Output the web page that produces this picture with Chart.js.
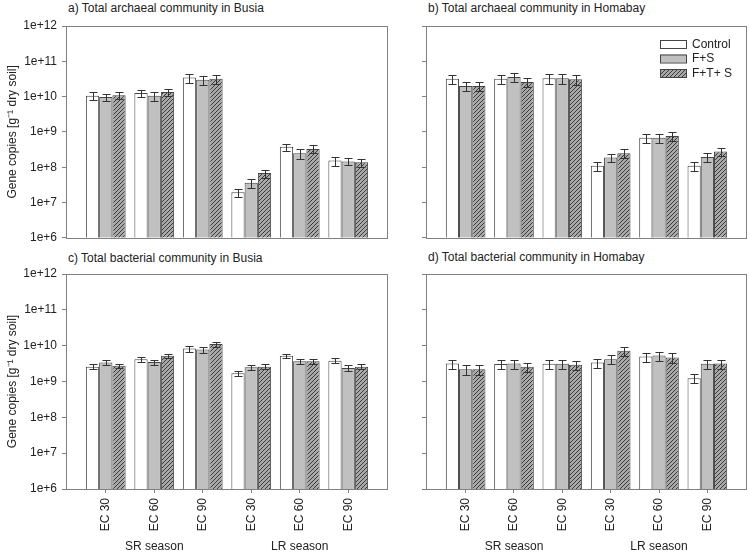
<!DOCTYPE html>
<html lang="en">
<head>
  <meta charset="UTF-8">
  <title>Archaeal and bacterial gene copies</title>
  <script src="https://cdn.jsdelivr.net/npm/chart.js@4"></script>
  <style>
    body { margin: 0; background: #fff; font-family: 'Liberation Sans', Arial, sans-serif; }
    #wrap { position: relative; width: 750px; height: 553px; }
    canvas { position: absolute; }
    .ptitle { position: absolute; font-size: 12px; line-height: 14px; color: #222; white-space: nowrap; }
  </style>
</head>
<body>
<div id="wrap">
  <div class="ptitle" style="left:68px;top:1px">a) Total archaeal community in Busia</div>
  <div class="ptitle" style="left:428px;top:1px">b) Total archaeal community in Homabay</div>
  <div class="ptitle" style="left:68px;top:251px">c) Total bacterial community in Busia</div>
  <div class="ptitle" style="left:428px;top:250px">d) Total bacterial community in Homabay</div>
  <canvas id="chartA" width="395" height="250" style="left:0;top:0"></canvas>
  <canvas id="chartB" width="355" height="250" style="left:395px;top:0"></canvas>
  <canvas id="chartC" width="395" height="303" style="left:0;top:250px"></canvas>
  <canvas id="chartD" width="355" height="303" style="left:395px;top:250px"></canvas>
</div>

<script>
  const categories = ['EC 30', 'EC 60', 'EC 90', 'EC 30', 'EC 60', 'EC 90'];
  const seasons = ['SR season', 'LR season'];
  const seasonAt = [1, 4];
  const seriesNames = ['Control', 'F+S', 'F+T+ S'];
  const yTicks = [1e6, 1e7, 1e8, 1e9, 1e10, 1e11, 1e12];
  const yTitle = 'Gene copies [g\u207B\u00B9 dry soil]';

  // a) archaea, Busia
  const archBusiaControl = [1.05e10, 1.26e10, 3.5e10, 1.95e7, 3.8e8, 1.55e8];
  const archBusiaControlErr = [2.6e9, 3.1e9, 1.0e10, 4.9e6, 8.7e7, 4.5e7];
  const archBusiaFS = [9.8e9, 1.05e10, 3.0e10, 3.6e7, 2.5e8, 1.45e8];
  const archBusiaFSErr = [2.4e9, 2.8e9, 9e9, 1.0e7, 7.5e7, 3.2e7];
  const archBusiaFTS = [1.1e10, 1.35e10, 3.2e10, 6.8e7, 3.3e8, 1.38e8];
  const archBusiaFTSErr = [2.7e9, 3.4e9, 9e9, 1.7e7, 8.2e7, 3.5e7];

  // b) archaea, Homabay
  const archHomaControl = [3.2e10, 3.2e10, 3.3e10, 1.1e8, 6.8e8, 1.1e8];
  const archHomaControlErr = [9.6e9, 9e9, 1.0e10, 3.1e7, 1.9e8, 3.1e7];
  const archHomaFS = [2.0e10, 3.6e10, 3.3e10, 1.87e8, 6.8e8, 1.95e8];
  const archHomaFSErr = [6e9, 9.7e9, 1.0e10, 5e7, 1.9e8, 5.3e7];
  const archHomaFTS = [2.0e10, 2.6e10, 3.1e10, 2.5e8, 7.6e8, 2.8e8];
  const archHomaFTSErr = [5.6e9, 7.3e9, 9.3e9, 7e7, 2.1e8, 7.8e7];

  // c) bacteria, Busia
  const bactBusiaControl = [2.6e9, 4.2e9, 8.3e9, 1.7e9, 5.2e9, 3.8e9];
  const bactBusiaControlErr = [3.9e8, 6.3e8, 1.5e9, 2.7e8, 8e8, 6e8];
  const bactBusiaFS = [3.4e9, 3.5e9, 7.8e9, 2.5e9, 3.7e9, 2.4e9];
  const bactBusiaFSErr = [5e8, 5.5e8, 1.4e9, 4e8, 6e8, 4e8];
  const bactBusiaFTS = [2.75e9, 5.2e9, 1.12e10, 2.6e9, 3.7e9, 2.6e9];
  const bactBusiaFTSErr = [4e8, 8e8, 1.8e9, 4e8, 5.5e8, 4e8];

  // d) bacteria, Homabay
  const bactHomaControl = [3.2e9, 3.1e9, 3.15e9, 3.4e9, 5.0e9, 1.23e9];
  const bactHomaControlErr = [9e8, 9e8, 9.5e8, 9.5e8, 1.4e9, 3.5e8];
  const bactHomaFS = [2.2e9, 3.2e9, 3.15e9, 4.2e9, 5.3e9, 3.15e9];
  const bactHomaFSErr = [6.5e8, 9e8, 9.5e8, 1.2e9, 1.5e9, 9e8];
  const bactHomaFTS = [2.2e9, 2.6e9, 2.95e9, 7.2e9, 4.7e9, 3.2e9];
  const bactHomaFTSErr = [6.5e8, 7.5e8, 8.5e8, 2.1e9, 1.35e9, 9e8];

  Chart.defaults.font.family = "'Liberation Sans', Arial, sans-serif";
  Chart.defaults.font.size = 12;
  Chart.defaults.color = '#222';
  Chart.defaults.animation = false;

  // hatched fill for F+T+ S
  function hatch() {
    const c = document.createElement('canvas');
    c.width = 4; c.height = 4;
    const g = c.getContext('2d');
    g.fillStyle = '#a9a9a9';
    g.fillRect(0, 0, 4, 4);
    g.strokeStyle = '#3a3a3a';
    g.lineWidth = 1;
    g.beginPath();
    g.moveTo(0, 4); g.lineTo(4, 0);
    g.moveTo(-1, 1); g.lineTo(1, -1);
    g.moveTo(3, 5); g.lineTo(5, 3);
    g.stroke();
    return g.createPattern(c, 'repeat');
  }
  const fills = ['#ffffff', '#c0c0c0', hatch()];

  const errorBars = {
    id: 'errorBars',
    afterDatasetsDraw(chart) {
      const ctx = chart.ctx, y = chart.scales.y;
      ctx.save();
      ctx.strokeStyle = '#333';
      ctx.lineWidth = 1;
      chart.data.datasets.forEach((ds, di) => {
        chart.getDatasetMeta(di).data.forEach((bar, i) => {
          const v = ds.data[i].y, e = ds.errors[i];
          const x = Math.round(bar.x) + 0.5;
          const t = Math.round(y.getPixelForValue(v + e)) + 0.5;
          const b = Math.round(y.getPixelForValue(v - e)) + 0.5;
          ctx.beginPath();
          ctx.moveTo(x, t); ctx.lineTo(x, b);
          ctx.moveTo(x - 4, t); ctx.lineTo(x + 4, t);
          ctx.moveTo(x - 4, b); ctx.lineTo(x + 4, b);
          ctx.stroke();
        });
      });
      ctx.restore();
    }
  };

  const frame = {
    id: 'frame',
    afterDraw(chart) {
      const a = chart.chartArea, ctx = chart.ctx;
      ctx.save();
      ctx.strokeStyle = '#808080';
      ctx.lineWidth = 1;
      ctx.strokeRect(Math.round(a.left) + 0.5, Math.round(a.top) + 0.5,
        Math.round(a.right - a.left) - 1, Math.round(a.bottom - a.top));
      ctx.restore();
    }
  };

  const boxLegend = {
    id: 'boxLegend',
    afterDraw(chart, args, opts) {
      if (!opts.show) return;
      const a = chart.chartArea, ctx = chart.ctx;
      ctx.save();
      ctx.font = "12px 'Liberation Sans', Arial, sans-serif";
      ctx.textBaseline = 'middle';
      chart.data.datasets.forEach((ds, i) => {
        const bx = a.right - 87, by = a.top + 14 + i * 14.5;
        ctx.fillStyle = ds.backgroundColor;
        ctx.fillRect(bx, by, 26, 8);
        ctx.strokeStyle = '#444';
        ctx.strokeRect(bx + 0.5, by + 0.5, 26, 8);
        ctx.fillStyle = '#222';
        ctx.fillText(ds.label, bx + 32, by + 4.5);
      });
      ctx.restore();
    }
  };

  const seasonLabels = {
    id: 'seasonLabels',
    afterDraw(chart, args, opts) {
      if (!opts.show) return;
      const ctx = chart.ctx, x = chart.scales.x;
      ctx.save();
      ctx.font = "12px 'Liberation Sans', Arial, sans-serif";
      ctx.fillStyle = '#222';
      ctx.textAlign = 'center';
      ctx.textBaseline = 'middle';
      seasons.forEach((s, i) => {
        ctx.fillText(s, x.getPixelForValue(seasonAt[i]), chart.height - 6);
      });
      ctx.restore();
    }
  };

  function makeChart(id, series, errs, opt) {
    new Chart(document.getElementById(id), {
      type: 'bar',
      data: {
        datasets: series.map((s, k) => ({
          label: seriesNames[k],
          data: s.map((v, i) => ({ x: i, y: v })),
          errors: errs[k],
          backgroundColor: fills[k],
          borderColor: '#444',
          borderWidth: 1,
          categoryPercentage: 0.82,
          barPercentage: 1.0
        }))
      },
      options: {
        responsive: false,
        layout: { padding: { top: opt.top, right: opt.right, left: 0, bottom: 0 } },
        plugins: {
          legend: { display: false },
          tooltip: { enabled: false },
          boxLegend: { show: opt.legend },
          seasonLabels: { show: opt.xLabels }
        },
        scales: {
          x: {
            type: 'linear',
            offset: false,
            min: -0.82,
            max: 5.82,
            afterBuildTicks: axis => { axis.ticks = categories.map((c, i) => ({ value: i })); },
            afterFit: s => { s.height = opt.xHeight; },
            border: { display: false },
            grid: { drawOnChartArea: false, drawTicks: opt.xLabels, tickLength: 4, color: '#808080', offset: false },
            ticks: {
              display: opt.xLabels,
              autoSkip: false,
              minRotation: 90,
              maxRotation: 90,
              padding: 5,
              callback: v => categories[v]
            }
          },
          y: {
            type: 'logarithmic',
            min: 1e6,
            max: 1e12,
            afterBuildTicks: axis => { axis.ticks = yTicks.map(v => ({ value: v })); },
            afterFit: s => { s.width = opt.yWidth; },
            border: { display: false },
            grid: { drawOnChartArea: false, tickLength: 4, color: '#808080' },
            title: { display: opt.yLabels, text: yTitle, padding: { top: 5, bottom: 0 } },
            ticks: {
              autoSkip: false,
              padding: 5,
              callback: v => opt.yLabels ? '1e+' + Math.round(Math.log10(v)) : ''
            }
          }
        }
      },
      plugins: [errorBars, frame, boxLegend, seasonLabels]
    });
  }

  makeChart('chartA', [archBusiaControl, archBusiaFS, archBusiaFTS],
    [archBusiaControlErr, archBusiaFSErr, archBusiaFTSErr],
    { top: 26, right: 7, xHeight: 8, yWidth: 66, yLabels: true, xLabels: false, legend: false });
  makeChart('chartB', [archHomaControl, archHomaFS, archHomaFTS],
    [archHomaControlErr, archHomaFSErr, archHomaFTSErr],
    { top: 26, right: 3, xHeight: 8, yWidth: 31, yLabels: false, xLabels: false, legend: true });
  makeChart('chartC', [bactBusiaControl, bactBusiaFS, bactBusiaFTS],
    [bactBusiaControlErr, bactBusiaFSErr, bactBusiaFTSErr],
    { top: 24, right: 7, xHeight: 64, yWidth: 66, yLabels: true, xLabels: true, legend: false });
  makeChart('chartD', [bactHomaControl, bactHomaFS, bactHomaFTS],
    [bactHomaControlErr, bactHomaFSErr, bactHomaFTSErr],
    { top: 24, right: 3, xHeight: 64, yWidth: 31, yLabels: false, xLabels: true, legend: false });
</script>
</body>
</html>
